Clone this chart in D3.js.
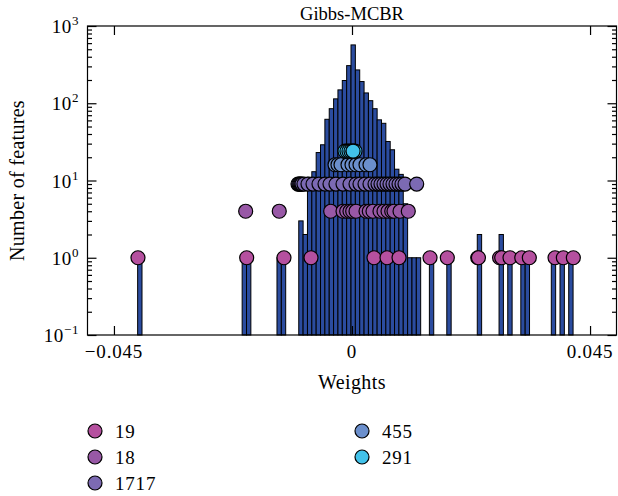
<!DOCTYPE html>
<html>
<head>
<meta charset="utf-8">
<script src="https://cdn.jsdelivr.net/npm/d3@7.9.0/dist/d3.min.js"></script>
<style>
  body { margin: 0; background: #fff; }
  svg { display: block; font-family: "Liberation Serif", "DejaVu Serif", serif; }
</style>
</head>
<body>
<svg width="618" height="496"></svg>
<script>
// histogram: 100 bins between the smallest and largest weight
const binLo = -0.04052;
const binHi = 0.04179;
const binTotal = 100;
const binIndex = [0, 24, 25, 32, 33, 37, 38, 39, 40, 41, 42, 43, 44, 45, 46, 47, 48, 49,
  50, 51, 52, 53, 54, 55, 56, 57, 58, 59, 60, 61, 62, 63, 64, 67, 71, 78, 83, 85, 88, 89, 95, 97, 99];
const binCount = [1, 1, 1, 1, 1, 3, 2, 11, 13, 23, 29, 62, 85, 114, 149, 197, 307, 569,
  270, 191, 136, 108, 85, 61, 55, 32, 25, 14, 12, 5, 1, 1, 1, 1, 1, 2, 2, 1, 1, 1, 1, 1, 1];

// marker groups (legend label, level on the y axis, weights)
const groupNames = ['19', '18', '1717', '455', '291'];
const groupLevel = [1, 4, 9, 16, 24];
const groupColor = ['#b5509f', '#9858a6', '#7c6ab3', '#6b8fcc', '#42c2ea'];
const w19 = [-0.04046, -0.01991, -0.01286, -0.00775, 0.00416, 0.00662, 0.00889, 0.01475, 0.01802,
  0.02377, 0.0239, 0.0279, 0.0283, 0.02987, 0.03209, 0.03352, 0.03838, 0.03995, 0.04184];
const w18 = [-0.0201, -0.01375, -0.00403, -0.0017, -0.001, -0.00038, 0.00013, 0.00076, 0.00265,
  0.00327, 0.00397, 0.00529, 0.00605, 0.00681, 0.00751, 0.00794, 0.00908, 0.01064];
const w1717 = [-0.01021, -0.01002, -0.00983, -0.00964, -0.00945, -0.00908, -0.00832, -0.00737, -0.00624,
  -0.0051, -0.00416, -0.00303, -0.0017, -0.00038, 0.00076, 0.00151, 0.00246, 0.0034, 0.00435,
  0.00492, 0.00548, 0.00605, 0.00662, 0.00718, 0.00775, 0.00832, 0.00889, 0.00945, 0.01002, 0.01223];
const w455 = [-0.00321, -0.00265, -0.00208, -0.00076, 0, 0.00076, 0.00151, 0.00265, 0.0034];
const w291 = [-0.00132, -0.00095, -0.00057, -0.00019, 0.00019, 0.00057, 0.0002];
const groupWeights = [w19, w18, w1717, w455, w291];

const xTicks = [-0.045, 0, 0.045];
const xTickLabels = ['\u22120.045', '0', '0.045'];
const yTicks = [0.1, 1, 10, 100, 1000];
const yTickExp = ['\u22121', '0', '1', '2', '3'];

const svg = d3.select('svg');
const m = { left: 87.5, right: 616.5, top: 26, bottom: 335 };

const x = d3.scaleLinear().domain([-0.05, 0.05]).range([m.left, m.right]);
const y = d3.scaleLog().domain([0.1, 1000]).range([m.bottom, m.top]);

const binW = (binHi - binLo) / binTotal;

// bars
svg.append('g')
  .selectAll('rect')
  .data(binIndex)
  .join('rect')
  .attr('x', (d) => x(binLo + d * binW))
  .attr('width', (d) => x(binLo + (d + 1) * binW) - x(binLo + d * binW))
  .attr('y', (d, i) => y(binCount[i]))
  .attr('height', (d, i) => y(0.1) - y(binCount[i]))
  .attr('fill', '#2b4c9f')
  .attr('stroke', '#000')
  .attr('stroke-width', 1);

// markers
groupWeights.forEach((ws, gi) => {
  svg.append('g')
    .selectAll('circle')
    .data(ws)
    .join('circle')
    .attr('cx', (d) => x(d))
    .attr('cy', y(groupLevel[gi]))
    .attr('r', 7)
    .attr('fill', groupColor[gi])
    .attr('stroke', '#000')
    .attr('stroke-width', 1.2);
});

// frame
svg.append('rect')
  .attr('x', m.left).attr('y', m.top)
  .attr('width', m.right - m.left).attr('height', m.bottom - m.top)
  .attr('fill', 'none').attr('stroke', '#000').attr('stroke-width', 1.2);

// inward ticks
const minorY = [];
[0.1, 1, 10, 100].forEach((dec) => {
  for (let k = 2; k <= 9; k++) minorY.push(dec * k);
});

function tickAxis(axis, tr) {
  const g = svg.append('g').attr('transform', tr).call(axis);
  g.select('.domain').remove();
  g.selectAll('line').attr('stroke', '#000').attr('stroke-width', 1.2);
}

tickAxis(d3.axisBottom(x).tickValues(xTicks).tickSize(-9).tickFormat(''), `translate(0,${m.bottom})`);
tickAxis(d3.axisTop(x).tickValues(xTicks).tickSize(-9).tickFormat(''), `translate(0,${m.top})`);
tickAxis(d3.axisLeft(y).tickValues(yTicks).tickSize(-9).tickFormat(''), `translate(${m.left},0)`);
tickAxis(d3.axisLeft(y).tickValues(minorY).tickSize(-4.5).tickFormat(''), `translate(${m.left},0)`);
tickAxis(d3.axisRight(y).tickValues(yTicks).tickSize(-9).tickFormat(''), `translate(${m.right},0)`);
tickAxis(d3.axisRight(y).tickValues(minorY).tickSize(-4.5).tickFormat(''), `translate(${m.right},0)`);

// tick labels
svg.append('g')
  .selectAll('text')
  .data(xTicks)
  .join('text')
  .attr('x', (d) => x(d))
  .attr('y', m.bottom + 23)
  .attr('text-anchor', 'middle')
  .attr('font-size', 19)
  .attr('letter-spacing', 0.8)
  .text((d, i) => xTickLabels[i]);

const yl = svg.append('g')
  .selectAll('text')
  .data(yTicks)
  .join('text')
  .attr('x', 79)
  .attr('y', (d) => y(d) + 7)
  .attr('text-anchor', 'end')
  .attr('font-size', 19)
  .attr('letter-spacing', 0.6);
yl.append('tspan').text('10');
yl.append('tspan')
  .attr('dy', -8)
  .attr('font-size', 13)
  .text((d, i) => yTickExp[i]);

// titles
svg.append('text')
  .attr('x', x(0)).attr('y', 20)
  .attr('text-anchor', 'middle').attr('font-size', 18.5)
  .text('Gibbs-MCBR');

svg.append('text')
  .attr('x', x(0)).attr('y', 389)
  .attr('text-anchor', 'middle').attr('font-size', 20)
  .attr('letter-spacing', 0.4)
  .text('Weights');

svg.append('text')
  .attr('transform', `translate(24,${(m.top + m.bottom) / 2}) rotate(-90)`)
  .attr('text-anchor', 'middle').attr('font-size', 20)
  .attr('letter-spacing', 0.3)
  .text('Number of features');

// legend: two columns
const legendPos = [[95, 431], [95, 457], [95, 483], [362, 431], [362, 457]];
const lg = svg.append('g')
  .selectAll('g')
  .data(groupNames)
  .join('g')
  .attr('transform', (d, i) => `translate(${legendPos[i][0]},${legendPos[i][1]})`);
lg.append('circle')
  .attr('r', 7)
  .attr('fill', (d, i) => groupColor[i])
  .attr('stroke', '#000')
  .attr('stroke-width', 1.2);
lg.append('text')
  .attr('x', 20).attr('y', 6.5)
  .attr('font-size', 19)
  .attr('letter-spacing', 0.8)
  .text((d) => d);
</script>
</body>
</html>
